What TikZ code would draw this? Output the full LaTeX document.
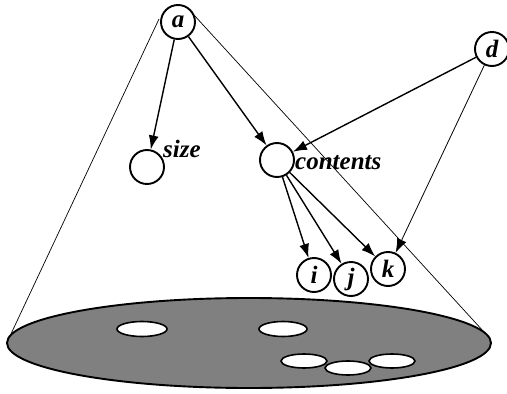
\documentclass[tikz,border=0pt]{standalone}
\usepackage{fontspec}
\setmainfont{Liberation Serif}
\usetikzlibrary{arrows.meta,shapes.geometric}
\begin{document}
\begin{tikzpicture}[x=1pt,y=-1pt,
  vert/.style={circle,draw,line width=1.9pt,fill=white,minimum size=34pt,inner sep=0pt,font=\fontsize{25}{29}\selectfont\bfseries\itshape},
  lbl/.style={inner sep=0pt,anchor=base west,font=\fontsize{25}{29}\selectfont\bfseries\itshape},
  arr/.style={line width=1.4pt,-{Latex[length=14pt,width=10pt]}},
  thinarr/.style={line width=0.8pt,-{Latex[length=14pt,width=10pt]}},
  cone/.style={line width=0.7pt},
  hole/.style={ellipse,draw,line width=1.6pt,fill=white,inner sep=0pt}]
\useasboundingbox (0,0) rectangle (507,394);
% cone
\coordinate (atl) at (159,19);
\coordinate (atr) at (194,15);
\coordinate (bl) at (10,336);
\coordinate (br) at (484,332);
\draw[cone] (atl) -- (bl);
\draw[cone] (atr) -- (br);
% base
\node[draw,line width=1.9pt,fill=black!50,ellipse,minimum width=484pt,minimum height=90pt,inner sep=0pt] (base) at (249,343) {};
\node[hole,minimum width=50pt,minimum height=15pt] (h1) at (142,329) {};
\node[hole,minimum width=48pt,minimum height=15pt] (h2) at (283,329) {};
\node[hole,minimum width=46pt,minimum height=14pt] (h3) at (304,361) {};
\node[hole,minimum width=46pt,minimum height=14pt] (h5) at (392,361) {};
\node[hole,minimum width=46pt,minimum height=14pt] (h4) at (348,368) {};
% vertices
\node[vert] (a) at (178,22) {a};
\node[vert] (d) at (492,49) {d};
\node[vert] (size) at (147,167) {};
\node[vert] (contents) at (277,160) {};
\node[vert] (i) at (314,275) {i};
\node[vert] (j) at (351,279) {j};
\node[vert] (k) at (388,269) {k};
\node[lbl] (sizel) at (163,157) {size};
\node[lbl] (contl) at (295,169) {contents};
% arrows
\draw[arr] (a) -- (size);
\draw[arr] (a) -- (contents);
\draw[arr] (d) -- (contents);
\draw[thinarr] (d) -- (k);
\draw[arr] (contents) -- (i);
\draw[arr] (contents) -- (j);
\draw[arr] (contents) -- (k);
\end{tikzpicture}
\end{document}
